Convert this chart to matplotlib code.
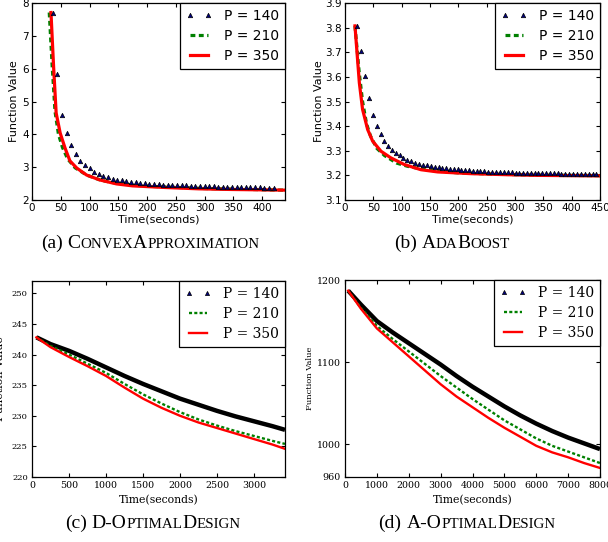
import matplotlib
matplotlib.use('Agg')
import matplotlib.pyplot as plt
from matplotlib.lines import Line2D
import numpy as np

plt.rcParams['lines.scale_dashes'] = False

W, H = 608, 542

# (a) ConvexApproximation
a_t140 = [36, 44, 52, 60, 68, 76, 84, 92, 100, 108, 116, 124, 132, 140, 148, 156, 164,
          172, 180, 188, 196, 204, 212, 220, 228, 236, 244, 252, 260, 268, 276, 284, 292,
          300, 308, 316, 324, 332, 340, 348, 356, 364, 372, 380, 388, 396, 404, 412, 420]
a_f140 = [7.70, 5.83, 4.59, 4.03, 3.67, 3.41, 3.18, 3.07, 2.97, 2.86, 2.79, 2.74, 2.70,
          2.65, 2.62, 2.60, 2.58, 2.56, 2.54, 2.52, 2.51, 2.50, 2.49, 2.48, 2.47, 2.465,
          2.46, 2.455, 2.45, 2.445, 2.44, 2.435, 2.43, 2.425, 2.42, 2.415, 2.41, 2.405,
          2.40, 2.40, 2.395, 2.395, 2.39, 2.39, 2.385, 2.385, 2.38, 2.38, 2.375]
a_t210 = [30, 35, 40, 46, 53, 62, 75, 95, 120, 150, 200, 300, 440]
a_f210 = [7.71, 6.1, 4.7, 4.0, 3.6, 3.25, 2.98, 2.76, 2.6, 2.5, 2.42, 2.35, 2.30]
a_t350 = [33, 37.5, 42, 49, 57.5, 66, 78, 95, 118, 147, 175, 233, 290, 348, 440]
a_f350 = [7.71, 6.08, 4.65, 4.04, 3.58, 3.19, 2.97, 2.76, 2.61, 2.49, 2.43, 2.38, 2.34,
          2.32, 2.30]

# (b) AdaBoost
b_t140 = [22, 29, 35, 42, 49, 56, 63, 69, 76, 83, 90, 97, 103, 110, 117, 124, 131, 137,
          144, 151, 158, 165, 171, 178, 185, 192, 199, 205, 212, 219, 226, 233, 239, 246,
          253, 260, 267, 273, 280, 287, 294, 301, 307, 314, 321, 328, 335, 341, 348, 355,
          362, 369, 375, 382, 389, 396, 403, 409, 416, 423, 430, 437, 443]
b_f140 = [3.805, 3.706, 3.605, 3.514, 3.446, 3.40, 3.367, 3.339, 3.32, 3.304, 3.29,
          3.281, 3.27, 3.264, 3.257, 3.251, 3.247, 3.243, 3.241, 3.238,
          3.236, 3.233, 3.231, 3.229, 3.227, 3.225, 3.224, 3.222, 3.221, 3.22,
          3.219, 3.218, 3.217, 3.216, 3.215, 3.215, 3.214, 3.213, 3.213, 3.212,
          3.212, 3.211, 3.211, 3.21, 3.21, 3.21, 3.209, 3.209, 3.209, 3.208,
          3.208, 3.208, 3.208, 3.207, 3.207, 3.207, 3.207, 3.206, 3.206, 3.206,
          3.206, 3.206, 3.205]
b_t210 = [17.6, 25, 31, 38, 45, 56, 70, 91, 110, 130, 160, 200, 250, 300, 350, 450]
b_f210 = [3.807, 3.62, 3.5, 3.41, 3.36, 3.31, 3.28, 3.25, 3.237, 3.228, 3.218, 3.21,
          3.206, 3.203, 3.201, 3.199]
b_t350 = [17.6, 25.3, 31, 40, 48.8, 63.5, 81, 104.7, 134, 163.5, 222, 281, 340, 450]
b_f350 = [3.807, 3.576, 3.468, 3.386, 3.339, 3.298, 3.271, 3.244, 3.223, 3.214, 3.207,
          3.203, 3.2, 3.198]

# (c) D-OptimalDesign
c_t = [60, 250, 500, 750, 1000, 1250, 1500, 1750, 2000, 2250, 2500, 2750, 3000, 3250, 3420]
c_f140 = [242.8, 241.7, 240.6, 239.3, 237.9, 236.5, 235.2, 234.0, 232.8, 231.8, 230.8,
          229.9, 229.1, 228.3, 227.7]
c_f210 = [242.8, 241.4, 240.0, 238.5, 237.0, 235.2, 233.5, 232.0, 230.6, 229.4, 228.4,
          227.5, 226.7, 225.9, 225.4]
c_f350 = [242.8, 241.2, 239.6, 238.1, 236.5, 234.6, 232.8, 231.3, 230.0, 228.9, 228.0,
          227.1, 226.2, 225.3, 224.6]

# (d) A-OptimalDesign
d_t = [100, 500, 1000, 1500, 2000, 2500, 3000, 3500, 4000, 4500, 5000, 5500, 6000, 6500,
       7000, 7500, 8000]
d_f140 = [1187, 1170, 1150, 1136, 1123, 1110, 1097, 1083, 1070, 1058, 1046, 1035, 1025,
          1016, 1008, 1001, 994]
d_f210 = [1187, 1166, 1144, 1128, 1113, 1098, 1083, 1069, 1055, 1042, 1029, 1018, 1007,
          998, 991, 984, 977]
d_f350 = [1187, 1165, 1141, 1124, 1107, 1090, 1073, 1058, 1045, 1032, 1020, 1009, 998,
          990, 984, 977, 971]

labels = ['P = 140', 'P = 210', 'P = 350']

fig = plt.figure(figsize=(W / 100, H / 100), dpi=100)


def axes_px(left, top, right, bottom):
    return fig.add_axes([left / W, 1 - bottom / H, (right - left) / W, (bottom - top) / H])


def style(ax, fam, xs, ys, pad):
    ax.tick_params(direction='in', top=True, right=True, length=3, width=0.8,
                   pad=pad, colors='k')
    for lab in ax.get_xticklabels():
        lab.set_family(fam)
        lab.set_fontsize(xs)
    for lab in ax.get_yticklabels():
        lab.set_family(fam)
        lab.set_fontsize(ys)
    for sp in ax.spines.values():
        sp.set_linewidth(0.9)


def legend(ax, fam, ms, dash, lw):
    hs = [Line2D([], [], ls='none', marker='^', ms=ms, mfc='#000080', mec='k', mew=0.5),
          Line2D([], [], color='#008000', ls=(0, dash), lw=lw),
          Line2D([], [], color='red', lw=lw)]
    lg = ax.legend(hs, labels, loc='upper right', numpoints=2, borderaxespad=0,
                   fancybox=False, framealpha=1, edgecolor='k', handlelength=1.9,
                   labelspacing=0.45, borderpad=0.4, handletextpad=0.9,
                   prop={'family': fam, 'size': 10})
    lg.get_frame().set_linewidth(0.9)


# top panels
for box, t140, f140, t210, f210, t350, f350, xl, yl, xt, yt, ylx in [
        ((32, 3, 285, 200), a_t140, a_f140, a_t210, a_f210, a_t350, a_f350,
         (0, 440), (2, 8), np.arange(0, 401, 50), np.arange(2, 9, 1), -0.052),
        ((345, 3, 600, 200), b_t140, b_f140, b_t210, b_f210, b_t350, b_f350,
         (0, 450), (3.1, 3.9), np.arange(0, 451, 50), np.arange(3.1, 3.91, 0.1), -0.084)]:
    ax = axes_px(*box)
    ax.plot(t210, f210, color='#008000', ls=(0, (3.5, 2.5)), lw=2.3)
    ax.plot(t350, f350, color='red', lw=2.3)
    ax.plot(t140, f140, ls='none', marker='^', ms=3.2, mfc='#000080', mec='k', mew=0.5)
    ax.set_xlim(*xl)
    ax.set_ylim(*yl)
    ax.set_xticks(xt)
    ax.set_yticks(yt)
    if yl[0] == 3.1:
        ax.set_yticklabels(['%.1f' % v for v in yt])
    style(ax, 'DejaVu Sans', 7.5, 7.5, 2)
    ax.set_xlabel('Time(seconds)', fontsize=8, family='DejaVu Sans')
    ax.set_ylabel('Function Value', fontsize=8, family='DejaVu Sans')
    ax.xaxis.set_label_coords(0.5, -0.076)
    ax.yaxis.set_label_coords(ylx, 0.5)
    legend(ax, 'DejaVu Sans', 3.2, (3.5, 2.5), 2.3)

# (c)
ax = axes_px(32, 281, 285, 477)
ax.plot(c_t, c_f140, color='k', lw=3.2, solid_capstyle='butt')
ax.plot(c_t, c_f210, color='#008000', ls=(0, (2.2, 1.6)), lw=1.7)
ax.plot(c_t, c_f350, color='red', lw=1.7)
ax.set_xlim(0, 3420)
ax.set_ylim(220, 252)
ax.set_xticks(np.arange(0, 3001, 500))
ax.set_yticks(np.arange(220, 251, 5))
style(ax, 'DejaVu Serif', 6.8, 6, 3)
ax.set_xlabel('Time(seconds)', fontsize=7.8, family='DejaVu Serif')
ax.set_ylabel('Function Value', fontsize=8, family='DejaVu Serif')
ax.xaxis.set_label_coords(0.5, -0.092)
ax.yaxis.set_label_coords(-0.105, 0.5)
legend(ax, 'DejaVu Serif', 3, (2.2, 1.6), 1.7)

# (d)
ax = axes_px(345, 280, 600, 477)
ax.plot(d_t, d_f140, color='k', lw=3.2, solid_capstyle='butt')
ax.plot(d_t, d_f210, color='#008000', ls=(0, (2.2, 1.6)), lw=1.7)
ax.plot(d_t, d_f350, color='red', lw=1.7)
ax.set_xlim(0, 8000)
ax.set_ylim(960, 1200)
ax.set_xticks(np.arange(0, 8001, 1000))
ax.set_yticks([960, 1000, 1100, 1200])
style(ax, 'DejaVu Serif', 6.8, 6.8, 3)
ax.set_xlabel('Time(seconds)', fontsize=7.8, family='DejaVu Serif')
ax.set_ylabel('Function Value', fontsize=6, family='DejaVu Serif')
ax.xaxis.set_label_coords(0.5, -0.092)
ax.yaxis.set_label_coords(-0.122, 0.5)
legend(ax, 'DejaVu Serif', 3, (2.2, 1.6), 1.7)


# captions in small caps
def caption(xc, yc, parts, big=14, small=10.8):
    r = fig.canvas.get_renderer()
    items = []
    for s, sm in parts:
        if s == ' ':
            items.append((None, big * 100 / 72 * 0.25))
            continue
        t = fig.text(0, 0, s, fontsize=small if sm else big, family='Liberation Serif',
                     va='baseline', ha='left')
        items.append((t, t.get_window_extent(r).width))
    x = xc - sum(w for _, w in items) / 2
    for t, w in items:
        if t is not None:
            t.set_position((x / W, 1 - yc / H))
        x += w


caption(150, 248, [('(a)', 0), (' ', 0), ('C', 0), ('ONVEX', 1), ('A', 0), ('PPROXIMATION', 1)])
caption(452, 248, [('(b)', 0), (' ', 0), ('A', 0), ('DA', 1), ('B', 0), ('OOST', 1)])
caption(153, 528, [('(c)', 0), (' ', 0), ('D-O', 0), ('PTIMAL', 1), ('D', 0), ('ESIGN', 1)])
caption(467, 528, [('(d)', 0), (' ', 0), ('A-O', 0), ('PTIMAL', 1), ('D', 0), ('ESIGN', 1)])

fig.savefig('out.png', dpi=100, facecolor='white')
